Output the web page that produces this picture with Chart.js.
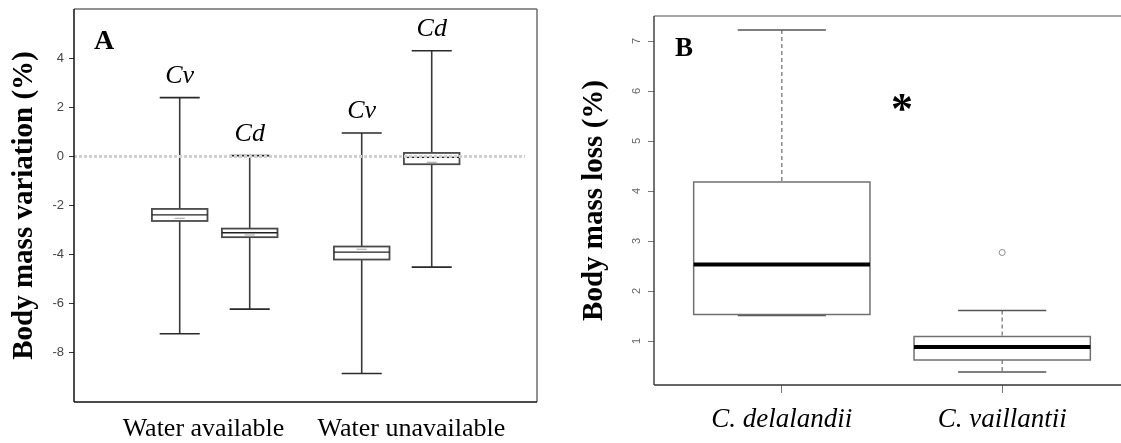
<!DOCTYPE html>
<html>
<head>
<meta charset="utf-8">
<script src="https://cdn.jsdelivr.net/npm/chart.js@4.4.1/dist/chart.umd.min.js"></script>
<style>
  html, body { margin: 0; padding: 0; background: #fff; overflow: hidden; width: 1121px; height: 443px; }
  #panelA { position: absolute; left: 0; top: 0; width: 560px; height: 443px; }
  #panelB { position: absolute; left: 560px; top: 0; width: 580px; height: 443px; }
</style>
</head>
<body>
<div id="panelA"><canvas id="chartA"></canvas></div>
<div id="panelB"><canvas id="chartB"></canvas></div>
<script>
// panel A: body mass variation, boxes in order Cv/Cd for each water condition
const groupsA = ["Water available", "Water unavailable"];
const speciesA = ["Cv", "Cd"];
const whiskerLowA = [-7.22, -6.22, -8.84, -4.51];
const boxLowA = [-2.63, -3.29, -4.2, -0.32];
const medianA = [-2.38, -3.11, -3.9, -0.04];
const meanA = [-2.52, -3.2, -3.78, -0.24];
const boxHighA = [-2.14, -2.94, -3.67, 0.14];
const whiskerHighA = [2.39, 0.03, 0.95, 4.3];
const yTicksA = [-8, -6, -4, -2, 0, 2, 4];

// panel B: body mass loss
const speciesB = ["C. delalandii", "C. vaillantii"];
const whiskerLowB = [1.51, 0.38];
const boxLowB = [1.53, 0.62];
const medianB = [2.53, 0.88];
const boxHighB = [4.18, 1.09];
const whiskerHighB = [7.22, 1.61];
const outlierB = [null, 2.77];
const yTicksB = [1, 2, 3, 4, 5, 6, 7];

// layout
const SERIF = '"Liberation Serif", "Times New Roman", serif';
const SANS = '"Liberation Sans", Arial, sans-serif';
const groupCenterA = [2.01, 4.61];
const speciesOffsetA = [-0.5, 0.5];
const xLabelPosA = [1.85, 4.82];
const posA = whiskerLowA.map((_, i) => groupCenterA[Math.floor(i / 2)] + speciesOffsetA[i % 2]);
const posB = [1, 2];
const sigMarkB = { x: 1.55, y: 5.77 };

function noPad(scale) {
  scale.paddingTop = 0; scale.paddingBottom = 0;
  scale.paddingLeft = 0; scale.paddingRight = 0;
}

function drawBoxes(chart, s) {
  const { ctx, scales: { x, y } } = chart;
  ctx.save();
  s.pos.forEach((p, i) => {
    const cx = x.getPixelForValue(p);
    const bw = x.getPixelForValue(p + s.boxHalf) - cx;
    const cw = x.getPixelForValue(p + s.capHalf) - cx;
    const yWl = y.getPixelForValue(s.wLow[i]);
    const yWh = y.getPixelForValue(s.wHigh[i]);
    const yBl = y.getPixelForValue(s.bLow[i]);
    const yBh = y.getPixelForValue(s.bHigh[i]);
    const yMed = y.getPixelForValue(s.med[i]);

    ctx.strokeStyle = s.whiskerColor;
    ctx.lineWidth = s.whiskerWidth;
    ctx.setLineDash(s.whiskerDash);
    ctx.beginPath();
    ctx.moveTo(cx, yWh); ctx.lineTo(cx, yBh);
    ctx.moveTo(cx, yBl); ctx.lineTo(cx, yWl);
    ctx.stroke();
    ctx.setLineDash([]);

    ctx.strokeStyle = s.capColor;
    ctx.lineWidth = s.capWidth;
    ctx.beginPath();
    ctx.moveTo(cx - cw, yWh); ctx.lineTo(cx + cw, yWh);
    ctx.moveTo(cx - cw, yWl); ctx.lineTo(cx + cw, yWl);
    ctx.stroke();

    ctx.fillStyle = '#fff';
    ctx.fillRect(cx - bw, yBh, 2 * bw, yBl - yBh);
    ctx.strokeStyle = s.boxColor;
    ctx.lineWidth = s.boxWidth;
    ctx.strokeRect(cx - bw, yBh, 2 * bw, yBl - yBh);

    ctx.strokeStyle = s.medColor;
    ctx.lineWidth = s.medWidth;
    ctx.beginPath();
    ctx.moveTo(cx - bw, yMed); ctx.lineTo(cx + bw, yMed);
    ctx.stroke();
  });
  ctx.restore();
}

function drawFrame(chart, colors, width) {
  const { ctx, chartArea: a } = chart;
  ctx.save();
  ctx.lineWidth = width;
  const sides = [
    [a.left, a.top, a.right, a.top, colors.top],
    [a.right, a.top, a.right, a.bottom, colors.right],
    [a.left, a.bottom, a.right, a.bottom, colors.bottom],
    [a.left, a.top, a.left, a.bottom, colors.left]
  ];
  sides.forEach(([x1, y1, x2, y2, c]) => {
    ctx.strokeStyle = c;
    ctx.beginPath(); ctx.moveTo(x1, y1); ctx.lineTo(x2, y2); ctx.stroke();
  });
  ctx.restore();
}

const boxPluginA = {
  id: 'boxA',
  beforeDatasetsDraw(chart) {
    drawBoxes(chart, {
      pos: posA, wLow: whiskerLowA, wHigh: whiskerHighA, bLow: boxLowA, bHigh: boxHighA, med: medianA,
      boxHalf: 0.397, capHalf: 0.286,
      whiskerColor: '#3a3a3a', whiskerWidth: 1.6, whiskerDash: [],
      capColor: '#2a2a2a', capWidth: 1.6,
      boxColor: '#4a4a4a', boxWidth: 1.8,
      medColor: '#222', medWidth: 1.4
    });
    const { ctx, chartArea: a, scales: { y } } = chart;
    const y0 = y.getPixelForValue(0);
    ctx.save();
    ctx.strokeStyle = '#d0d0d0';
    ctx.lineWidth = 3;
    ctx.setLineDash([3, 2]);
    ctx.beginPath();
    ctx.moveTo(a.left, y0); ctx.lineTo(a.right - 12, y0);
    ctx.stroke();
    ctx.restore();
  },
  afterDraw(chart) {
    const { ctx, chartArea: a, scales: { x, y } } = chart;
    drawFrame(chart, { top: '#6e6e6e', right: '#6e6e6e', bottom: '#111', left: '#111' }, 1.5);
    ctx.save();
    ctx.fillStyle = '#000';
    ctx.textAlign = 'center';
    ctx.textBaseline = 'alphabetic';
    ctx.font = 'italic 26px ' + SERIF;
    posA.forEach((p, i) => {
      ctx.fillText(speciesA[i % 2], x.getPixelForValue(p), y.getPixelForValue(whiskerHighA[i]) - 15);
    });
    ctx.textAlign = 'left';
    ctx.font = 'bold 28px ' + SERIF;
    ctx.fillText('A', a.left + 20, a.top + 40);
    ctx.restore();
  }
};

const boxPluginB = {
  id: 'boxB',
  beforeDatasetsDraw(chart) {
    drawBoxes(chart, {
      pos: posB, wLow: whiskerLowB, wHigh: whiskerHighB, bLow: boxLowB, bHigh: boxHighB, med: medianB,
      boxHalf: 0.4, capHalf: 0.2,
      whiskerColor: '#777', whiskerWidth: 1.3, whiskerDash: [4, 3],
      capColor: '#555', capWidth: 1.6,
      boxColor: '#707070', boxWidth: 1.5,
      medColor: '#000', medWidth: 4
    });
  },
  afterDraw(chart) {
    const { ctx, chartArea: a, scales: { x, y } } = chart;
    drawFrame(chart, { top: '#8a8a8a', right: '#8a8a8a', bottom: '#333', left: '#444' }, 1.5);
    ctx.save();
    ctx.fillStyle = '#666';
    ctx.font = '11px ' + SANS;
    ctx.textAlign = 'center';
    ctx.textBaseline = 'middle';
    yTicksB.forEach(v => {
      ctx.save();
      ctx.translate(a.left - 17, y.getPixelForValue(v));
      ctx.rotate(-Math.PI / 2);
      ctx.fillText(String(v), 0, 0);
      ctx.restore();
    });
    ctx.fillStyle = '#000';
    ctx.textAlign = 'left';
    ctx.textBaseline = 'alphabetic';
    ctx.font = 'bold 27px ' + SERIF;
    ctx.fillText('B', a.left + 21, a.top + 40);
    ctx.font = 'bold 44px ' + SERIF;
    const m = ctx.measureText('*');
    const sx = x.getPixelForValue(sigMarkB.x);
    const sy = y.getPixelForValue(sigMarkB.y);
    const gw = m.actualBoundingBoxRight - m.actualBoundingBoxLeft;
    ctx.fillText('*', sx - gw / 2 + m.actualBoundingBoxLeft,
      sy + (m.actualBoundingBoxAscent - m.actualBoundingBoxDescent) / 2);
    ctx.restore();
  }
};

new Chart(document.getElementById('chartA'), {
  type: 'scatter',
  data: {
    datasets: [{
      label: 'mean',
      data: meanA.map((m, i) => ({ x: posA[i], y: m })),
      pointStyle: 'line',
      pointRadius: 5,
      borderColor: '#a0a0a0',
      borderWidth: 1,
      showLine: false
    }]
  },
  options: {
    responsive: true,
    maintainAspectRatio: false,
    animation: false,
    layout: { padding: { top: 9, right: 23, bottom: 0, left: 0 } },
    plugins: { legend: { display: false }, tooltip: { enabled: false } },
    scales: {
      x: {
        type: 'linear', min: 0, max: 6.614,
        border: { display: false },
        grid: { display: false, drawTicks: false },
        afterBuildTicks: s => { s.ticks = xLabelPosA.map(v => ({ value: v })); },
        afterFit: s => { s.height = 41; noPad(s); },
        ticks: {
          padding: 12,
          color: '#000',
          font: { family: SERIF, size: 26 },
          maxRotation: 0, autoSkip: false,
          callback: (v, i) => groupsA[i]
        }
      },
      y: {
        min: -10, max: 6,
        border: { display: false },
        grid: { drawOnChartArea: false, tickLength: 5, color: '#333' },
        afterBuildTicks: s => { s.ticks = yTicksA.map(v => ({ value: v })); },
        afterFit: s => { s.width = 74; noPad(s); },
        ticks: { padding: 5, color: '#444', font: { family: SANS, size: 13 } },
        title: {
          display: true,
          text: 'Body mass variation (%)',
          color: '#000',
          padding: { top: 7, bottom: 0 },
          font: { family: SERIF, size: 29, weight: 'bold' }
        }
      }
    }
  },
  plugins: [boxPluginA]
});

new Chart(document.getElementById('chartB'), {
  type: 'scatter',
  data: {
    datasets: [{
      label: 'outlier',
      data: outlierB.map((v, i) => v === null ? null : ({ x: posB[i], y: v })).filter(d => d),
      pointStyle: 'circle',
      pointRadius: 3,
      backgroundColor: 'rgba(0,0,0,0)',
      borderColor: '#8a8a8a',
      borderWidth: 1,
      showLine: false
    }]
  },
  options: {
    responsive: true,
    maintainAspectRatio: false,
    animation: false,
    layout: { padding: { top: 16, right: 10, bottom: 0, left: 0 } },
    plugins: { legend: { display: false }, tooltip: { enabled: false } },
    scales: {
      x: {
        type: 'linear', min: 0.42, max: 2.58,
        border: { display: false },
        grid: { drawOnChartArea: false, tickLength: 8, color: '#777' },
        afterBuildTicks: s => { s.ticks = posB.map(v => ({ value: v })); },
        afterFit: s => { s.height = 58; noPad(s); },
        ticks: {
          padding: 11,
          color: '#000',
          font: { family: SERIF, size: 27, style: 'italic' },
          maxRotation: 0, autoSkip: false,
          callback: (v, i) => speciesB[i]
        }
      },
      y: {
        min: 0.12, max: 7.5,
        border: { display: false },
        grid: { drawOnChartArea: false, tickLength: 6, color: '#777' },
        afterBuildTicks: s => { s.ticks = yTicksB.map(v => ({ value: v })); },
        afterFit: s => { s.width = 94; noPad(s); },
        ticks: { display: false },
        title: {
          display: true,
          text: 'Body mass loss (%)',
          color: '#000',
          padding: { top: 17, bottom: 0 },
          font: { family: SERIF, size: 29, weight: 'bold' }
        }
      }
    }
  },
  plugins: [boxPluginB]
});
</script>
</body>
</html>
